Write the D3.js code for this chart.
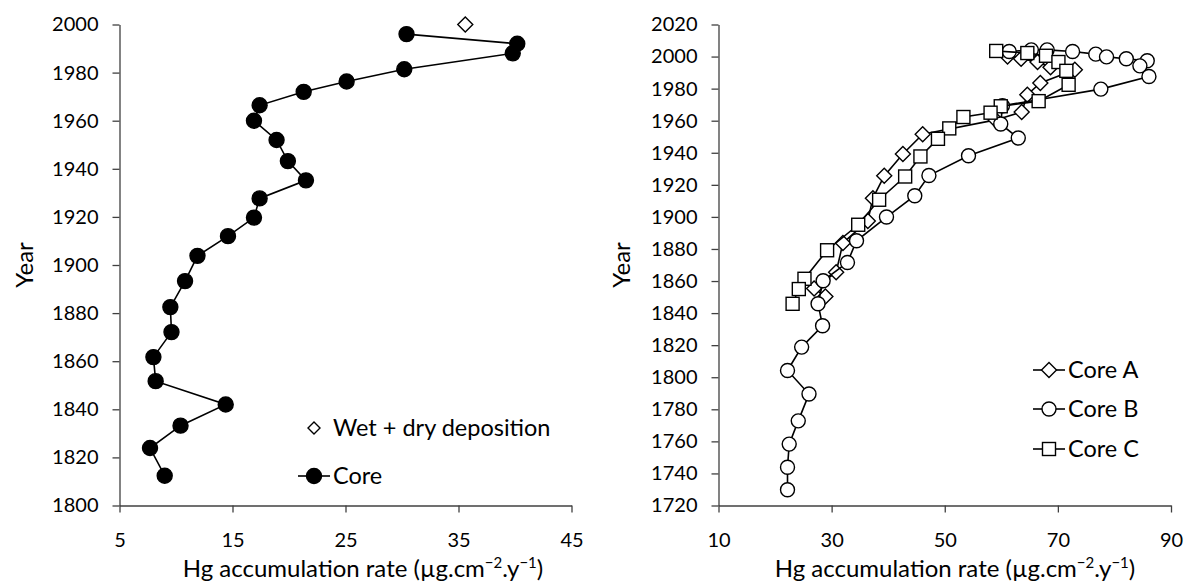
<!DOCTYPE html>
<html>
<head>
<meta charset="utf-8">
<script src="https://cdn.jsdelivr.net/npm/d3@7"></script>
<style>
  body { margin: 0; background: #fff; }
  text { font-family: Lato, "Open Sans", sans-serif; fill: #000; }
</style>
</head>
<body>
<svg id="chart" width="1186" height="585"></svg>
<script>
'use strict';

// left panel: single core + wet/dry deposition
const coreYears = [1996, 1992, 1988, 1981.4, 1976.3, 1972, 1966.4, 1960, 1952, 1943.2, 1935.2, 1927.7, 1919.7, 1912, 1903.8, 1893.3, 1882.5, 1872.1, 1861.7, 1851.7, 1842, 1833.2, 1823.9, 1812.4];
const coreRates = [30.4, 40.2, 39.8, 30.2, 25.1, 21.3, 17.4, 16.9, 18.9, 19.9, 21.5, 17.4, 16.9, 14.6, 11.9, 10.8, 9.5, 9.6, 8.0, 8.2, 14.4, 10.4, 7.7, 9.0];
const depoYears = [2000];
const depoRates = [35.6];

// right panel: three cores
const coreAYears = [2000.1, 1998.6, 1996.6, 1993.4, 1991.8, 1983.5, 1976.2, 1965.4, 1960.5, 1951.6, 1939.2, 1925.6, 1911.7, 1897.5, 1883.7, 1865.5, 1855.3, 1850.4];
const coreARates = [61.1, 63.5, 66.4, 68.7, 73.0, 66.9, 64.6, 63.6, 59.0, 46.1, 42.6, 39.3, 37.3, 36.4, 32.0, 30.8, 26.9, 28.9];
const coreBYears = [2003.2, 2004.2, 2004.2, 2003.2, 2001.5, 1999.8, 1998.6, 1997.4, 1994.2, 1987.6, 1979.7, 1969.3, 1957.9, 1949.2, 1938.1, 1925.8, 1913.2, 1899.9, 1885.1, 1871.6, 1860.2, 1845.8, 1832.1, 1818.8, 1804.2, 1789.5, 1772.8, 1758.3, 1743.9, 1729.8];
const coreBRates = [61.4, 65.3, 68.1, 72.6, 76.7, 78.6, 82.1, 85.8, 84.5, 86.1, 77.6, 60.2, 59.9, 63.0, 54.2, 47.2, 44.7, 39.7, 34.4, 32.8, 28.5, 27.6, 28.4, 24.7, 22.2, 26.0, 24.1, 22.5, 22.2, 22.2];
const coreCYears = [2003.5, 2002.2, 2000.5, 1996.6, 1991.1, 1982.4, 1972.2, 1969.0, 1965.0, 1962.3, 1955.2, 1948.7, 1937.7, 1925.2, 1910.7, 1895.1, 1879.2, 1861.4, 1855.0, 1845.8];
const coreCRates = [59.1, 64.6, 67.9, 70.1, 71.5, 71.9, 66.6, 59.9, 58.1, 53.3, 50.8, 48.8, 45.7, 43.0, 38.4, 34.7, 29.2, 25.2, 24.2, 23.1];

const leftXTicks = [5, 15, 25, 35, 45];
const leftYTicks = d3.range(1800, 2001, 20);
const rightXTicks = [10, 30, 50, 70, 90];
const rightYTicks = d3.range(1720, 2021, 20);

const svg = d3.select("#chart");
const axisColor = "#404040";

function zip(xs, ys) {
  return xs.map(function (x, i) { return { x: x, y: ys[i] }; });
}

function drawAxes(xScale, yScale, xTicks, yTicks) {
  const y0 = yScale.range()[0];
  const x0 = xScale.range()[0];

  const xAxis = svg.append("g")
    .attr("transform", `translate(0, ${y0})`)
    .call(d3.axisBottom(xScale).tickValues(xTicks).tickSize(7).tickPadding(20).tickSizeOuter(0));
  const yAxis = svg.append("g")
    .attr("transform", `translate(${x0}, 0)`)
    .call(d3.axisLeft(yScale).tickValues(yTicks).tickFormat(d3.format("d")).tickSize(7).tickPadding(14).tickSizeOuter(0));

  [xAxis, yAxis].forEach(function (g) {
    g.select(".domain").attr("stroke", axisColor).attr("stroke-width", 1.3);
    g.selectAll(".tick line").attr("stroke", axisColor).attr("stroke-width", 1.3);
    g.selectAll(".tick text").style("font-size", "20px").attr("fill", "#000");
  });
}

function diamondPath(s) {
  return `M0,${-s}L${s},0L0,${s}L${-s},0Z`;
}

function drawMarkers(data, xScale, yScale, shape, fill) {
  const g = svg.append("g");
  const sel = g.selectAll(".m").data(data).enter();
  if (shape === "circle") {
    sel.append("circle")
      .attr("cx", function (d) { return xScale(d.x); })
      .attr("cy", function (d) { return yScale(d.y); })
      .attr("r", fill === "#000" ? 7.5 : 7)
      .attr("fill", fill)
      .attr("stroke", "#000")
      .attr("stroke-width", 1.4);
  } else if (shape === "square") {
    sel.append("rect")
      .attr("x", function (d) { return xScale(d.x) - 6.5; })
      .attr("y", function (d) { return yScale(d.y) - 6.5; })
      .attr("width", 13)
      .attr("height", 13)
      .attr("fill", fill)
      .attr("stroke", "#000")
      .attr("stroke-width", 1.4);
  } else {
    sel.append("path")
      .attr("d", diamondPath(7.5))
      .attr("transform", function (d) { return `translate(${xScale(d.x)}, ${yScale(d.y)})`; })
      .attr("fill", fill)
      .attr("stroke", "#000")
      .attr("stroke-width", 1.4);
  }
}

function drawSeries(data, xScale, yScale, shape, fill) {
  const line = d3.line()
    .x(function (d) { return xScale(d.x); })
    .y(function (d) { return yScale(d.y); });
  svg.append("path")
    .datum(data)
    .attr("d", line)
    .attr("fill", "none")
    .attr("stroke", "#000")
    .attr("stroke-width", 1.6);
  drawMarkers(data, xScale, yScale, shape, fill);
}

function axisTitle(x, y, rotate) {
  if (rotate) {
    svg.append("text")
      .attr("transform", `translate(${x}, ${y}) rotate(-90)`)
      .attr("text-anchor", "middle")
      .style("font-size", "24px")
      .text("Year");
    return;
  }
  const t = svg.append("text")
    .attr("x", x)
    .attr("y", y)
    .attr("text-anchor", "middle")
    .style("font-size", "24px");
  t.append("tspan").text("Hg accumulation rate (µg.cm");
  t.append("tspan").attr("dy", -9).style("font-size", "15px").text("\u22122");
  t.append("tspan").attr("dy", 9).text(".y");
  t.append("tspan").attr("dy", -9).style("font-size", "15px").text("\u22121");
  t.append("tspan").attr("dy", 9).text(")");
}

function legendItem(x, y, label, shape, fill, withLine) {
  if (withLine) {
    svg.append("line")
      .attr("x1", x - 16).attr("x2", x + 16)
      .attr("y1", y).attr("y2", y)
      .attr("stroke", "#000").attr("stroke-width", 1.6);
  }
  const g = svg.append("g").attr("transform", `translate(${x}, ${y})`);
  if (shape === "circle") {
    g.append("circle").attr("r", fill === "#000" ? 7.5 : 7).attr("fill", fill).attr("stroke", "#000").attr("stroke-width", 1.4);
  } else if (shape === "square") {
    g.append("rect").attr("x", -6.5).attr("y", -6.5).attr("width", 13).attr("height", 13)
      .attr("fill", fill).attr("stroke", "#000").attr("stroke-width", 1.4);
  } else {
    const s = withLine ? 7.5 : 6;
    g.append("path").attr("d", diamondPath(s)).attr("fill", fill).attr("stroke", "#000").attr("stroke-width", 1.4);
  }
  svg.append("text")
    .attr("x", x + 19)
    .attr("y", y)
    .attr("dy", "0.36em")
    .style("font-size", "23.5px")
    .text(label);
}

// ---- left panel
const xL = d3.scaleLinear().domain([5, 45]).range([119.5, 571.5]);
const yL = d3.scaleLinear().domain([1800, 2000]).range([505.5, 24.5]);
drawAxes(xL, yL, leftXTicks, leftYTicks);
drawSeries(zip(coreRates, coreYears), xL, yL, "circle", "#000");
drawMarkers(zip(depoRates, depoYears), xL, yL, "diamond", "#fff");
axisTitle(33, 265, true);
axisTitle(363, 577, false);
legendItem(314, 428, "Wet + dry deposition", "diamond", "#fff", false);
legendItem(314, 476, "Core", "circle", "#000", true);

// ---- right panel
const xR = d3.scaleLinear().domain([10, 90]).range([718.5, 1171]);
const yR = d3.scaleLinear().domain([1720, 2020]).range([505.5, 24.5]);
drawAxes(xR, yR, rightXTicks, rightYTicks);
drawSeries(zip(coreARates, coreAYears), xR, yR, "diamond", "#fff");
drawSeries(zip(coreBRates, coreBYears), xR, yR, "circle", "#fff");
drawSeries(zip(coreCRates, coreCYears), xR, yR, "square", "#fff");
axisTitle(630, 265, true);
axisTitle(955, 577, false);
legendItem(1049, 370, "Core A", "diamond", "#fff", true);
legendItem(1049, 409, "Core B", "circle", "#fff", true);
legendItem(1049, 449, "Core C", "square", "#fff", true);
</script>
</body>
</html>
